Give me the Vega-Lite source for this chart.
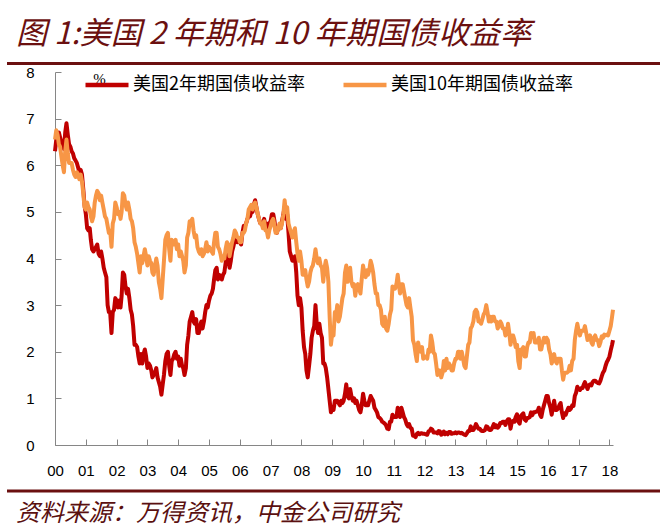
{
  "$schema": "https://vega.github.io/schema/vega-lite/v6.json",
  "background": "white",
  "padding": {"left": 5, "top": 19, "right": 5, "bottom": 6},
  "autosize": {"type": "pad"},
  "spacing": 0,
  "bounds": "full",
  "config": {"view": {"stroke": null}, "font": "Liberation Sans"},
  "vconcat": [
    {
      "width": 558,
      "height": 8.5,
      "title": {"text": "图 1:美国 2 年期和 10 年期国债收益率", "anchor": "start", "frame": "group", "dx": -39, "offset": 4, "fontSize": 31, "font": "Noto Sans CJK SC", "fontStyle": "italic", "fontWeight": "normal", "color": "#6B1010"},
      "data": {"values": [{"k": 0}]},
      "mark": {"type": "rule", "color": "#6B1010", "strokeWidth": 3},
      "encoding": {
        "x": {"datum": 0, "type": "quantitative", "scale": {"domain": [0, 1], "range": [-48, 605]}, "axis": null},
        "x2": {"datum": 1},
        "y": {"field": "k", "type": "quantitative", "scale": {"domain": [0, 1]}, "axis": null}
      }
    },
    {
      "width": 558,
      "height": 373,
      "data": {"values": [
        {"d":"2000-01-01","a":6.30,"b":6.55},{"d":"2000-01-16","a":6.55,"b":6.75},{"d":"2000-02-01","a":6.65,"b":6.65},{"d":"2000-02-16","a":6.70,"b":6.45},{"d":"2000-03-01","a":6.60,"b":6.40},{"d":"2000-03-16","a":6.50,"b":6.20},{"d":"2000-04-01","a":6.45,"b":6.00},{"d":"2000-04-16","a":6.35,"b":5.85},{"d":"2000-05-01","a":6.70,"b":6.30},{"d":"2000-05-16","a":6.90,"b":6.55},{"d":"2000-06-01","a":6.65,"b":6.25},{"d":"2000-06-16","a":6.45,"b":6.05},{"d":"2000-07-01","a":6.40,"b":6.05},{"d":"2000-07-16","a":6.30,"b":6.05},{"d":"2000-08-01","a":6.25,"b":5.90},{"d":"2000-08-16","a":6.15,"b":5.80},{"d":"2000-09-01","a":6.10,"b":5.75},{"d":"2000-09-16","a":6.05,"b":5.85},{"d":"2000-10-01","a":5.95,"b":5.80},{"d":"2000-10-16","a":5.85,"b":5.70},{"d":"2000-11-01","a":5.90,"b":5.80},{"d":"2000-11-16","a":5.80,"b":5.65},{"d":"2000-12-01","a":5.50,"b":5.40},{"d":"2000-12-16","a":5.15,"b":5.10},
        {"d":"2001-01-01","a":4.95,"b":5.05},{"d":"2001-01-16","a":4.65,"b":5.20},{"d":"2001-02-01","a":4.60,"b":5.10},{"d":"2001-02-16","a":4.65,"b":5.05},{"d":"2001-03-01","a":4.40,"b":4.90},{"d":"2001-03-16","a":4.20,"b":4.80},{"d":"2001-04-01","a":4.15,"b":4.90},{"d":"2001-04-16","a":4.20,"b":5.20},{"d":"2001-05-01","a":4.25,"b":5.35},{"d":"2001-05-16","a":4.30,"b":5.45},{"d":"2001-06-01","a":4.10,"b":5.40},{"d":"2001-06-16","a":4.05,"b":5.25},{"d":"2001-07-01","a":4.15,"b":5.35},{"d":"2001-07-16","a":4.00,"b":5.20},{"d":"2001-08-01","a":3.80,"b":5.05},{"d":"2001-08-16","a":3.70,"b":4.90},{"d":"2001-09-01","a":3.60,"b":4.85},{"d":"2001-09-16","a":3.00,"b":4.70},{"d":"2001-10-01","a":2.85,"b":4.55},{"d":"2001-10-16","a":2.85,"b":4.60},{"d":"2001-11-01","a":2.40,"b":4.25},{"d":"2001-11-16","a":2.85,"b":4.75},{"d":"2001-12-01","a":2.90,"b":4.85},{"d":"2001-12-16","a":3.15,"b":5.20},
        {"d":"2002-01-01","a":3.10,"b":5.10},{"d":"2002-01-16","a":2.95,"b":4.95},{"d":"2002-02-01","a":3.10,"b":5.00},{"d":"2002-02-16","a":2.95,"b":4.85},{"d":"2002-03-01","a":3.20,"b":5.00},{"d":"2002-03-16","a":3.70,"b":5.40},{"d":"2002-04-01","a":3.65,"b":5.35},{"d":"2002-04-16","a":3.40,"b":5.15},{"d":"2002-05-01","a":3.25,"b":5.05},{"d":"2002-05-16","a":3.35,"b":5.20},{"d":"2002-06-01","a":3.15,"b":5.05},{"d":"2002-06-16","a":2.90,"b":4.85},{"d":"2002-07-01","a":2.80,"b":4.80},{"d":"2002-07-16","a":2.55,"b":4.65},{"d":"2002-08-01","a":2.15,"b":4.35},{"d":"2002-08-16","a":2.15,"b":4.25},{"d":"2002-09-01","a":2.10,"b":4.10},{"d":"2002-09-16","a":1.90,"b":3.90},{"d":"2002-10-01","a":1.75,"b":3.70},{"d":"2002-10-16","a":1.95,"b":4.05},{"d":"2002-11-01","a":1.75,"b":3.90},{"d":"2002-11-16","a":1.95,"b":4.05},{"d":"2002-12-01","a":2.05,"b":4.20},{"d":"2002-12-16","a":1.90,"b":4.05},
        {"d":"2003-01-01","a":1.65,"b":3.85},{"d":"2003-01-16","a":1.75,"b":4.05},{"d":"2003-02-01","a":1.70,"b":3.95},{"d":"2003-02-16","a":1.60,"b":3.90},{"d":"2003-03-01","a":1.45,"b":3.70},{"d":"2003-03-16","a":1.50,"b":3.65},{"d":"2003-04-01","a":1.55,"b":3.85},{"d":"2003-04-16","a":1.65,"b":4.00},{"d":"2003-05-01","a":1.45,"b":3.85},{"d":"2003-05-16","a":1.35,"b":3.50},{"d":"2003-06-01","a":1.25,"b":3.35},{"d":"2003-06-16","a":1.08,"b":3.15},{"d":"2003-07-01","a":1.30,"b":3.55},{"d":"2003-07-16","a":1.50,"b":3.95},{"d":"2003-08-01","a":1.80,"b":4.40},{"d":"2003-08-16","a":1.95,"b":4.50},{"d":"2003-09-01","a":2.00,"b":4.55},{"d":"2003-09-16","a":1.70,"b":4.20},{"d":"2003-10-01","a":1.50,"b":3.95},{"d":"2003-10-16","a":1.80,"b":4.40},{"d":"2003-11-01","a":1.85,"b":4.30},{"d":"2003-11-16","a":1.95,"b":4.30},{"d":"2003-12-01","a":2.00,"b":4.40},{"d":"2003-12-16","a":1.85,"b":4.20},
        {"d":"2004-01-01","a":1.90,"b":4.30},{"d":"2004-01-16","a":1.70,"b":4.05},{"d":"2004-02-01","a":1.85,"b":4.15},{"d":"2004-02-16","a":1.70,"b":4.05},{"d":"2004-03-01","a":1.65,"b":3.95},{"d":"2004-03-16","a":1.50,"b":3.70},{"d":"2004-04-01","a":1.65,"b":3.85},{"d":"2004-04-16","a":2.15,"b":4.45},{"d":"2004-05-01","a":2.35,"b":4.55},{"d":"2004-05-16","a":2.65,"b":4.80},{"d":"2004-06-01","a":2.75,"b":4.80},{"d":"2004-06-16","a":2.85,"b":4.85},{"d":"2004-07-01","a":2.65,"b":4.60},{"d":"2004-07-16","a":2.60,"b":4.45},{"d":"2004-08-01","a":2.70,"b":4.50},{"d":"2004-08-16","a":2.40,"b":4.25},{"d":"2004-09-01","a":2.40,"b":4.15},{"d":"2004-09-16","a":2.55,"b":4.10},{"d":"2004-10-01","a":2.65,"b":4.20},{"d":"2004-10-16","a":2.50,"b":4.05},{"d":"2004-11-01","a":2.65,"b":4.10},{"d":"2004-11-16","a":2.85,"b":4.20},{"d":"2004-12-01","a":3.00,"b":4.35},{"d":"2004-12-16","a":2.95,"b":4.15},
        {"d":"2005-01-01","a":3.10,"b":4.25},{"d":"2005-01-16","a":3.20,"b":4.20},{"d":"2005-02-01","a":3.25,"b":4.15},{"d":"2005-02-16","a":3.35,"b":4.10},{"d":"2005-03-01","a":3.55,"b":4.35},{"d":"2005-03-16","a":3.75,"b":4.55},{"d":"2005-04-01","a":3.80,"b":4.55},{"d":"2005-04-16","a":3.55,"b":4.25},{"d":"2005-05-01","a":3.65,"b":4.20},{"d":"2005-05-16","a":3.60,"b":4.10},{"d":"2005-06-01","a":3.55,"b":3.95},{"d":"2005-06-16","a":3.65,"b":4.05},{"d":"2005-07-01","a":3.70,"b":4.00},{"d":"2005-07-16","a":3.90,"b":4.20},{"d":"2005-08-01","a":4.05,"b":4.35},{"d":"2005-08-16","a":4.10,"b":4.30},{"d":"2005-09-01","a":3.80,"b":4.05},{"d":"2005-09-16","a":3.95,"b":4.20},{"d":"2005-10-01","a":4.15,"b":4.35},{"d":"2005-10-16","a":4.25,"b":4.45},{"d":"2005-11-01","a":4.40,"b":4.60},{"d":"2005-11-16","a":4.40,"b":4.55},{"d":"2005-12-01","a":4.35,"b":4.45},{"d":"2005-12-16","a":4.40,"b":4.45},
        {"d":"2006-01-01","a":4.35,"b":4.35},{"d":"2006-01-16","a":4.30,"b":4.35},{"d":"2006-02-01","a":4.55,"b":4.55},{"d":"2006-02-16","a":4.70,"b":4.55},{"d":"2006-03-01","a":4.70,"b":4.60},{"d":"2006-03-16","a":4.75,"b":4.75},{"d":"2006-04-01","a":4.85,"b":4.85},{"d":"2006-04-16","a":4.90,"b":5.05},{"d":"2006-05-01","a":4.90,"b":5.10},{"d":"2006-05-16","a":5.00,"b":5.15},{"d":"2006-06-01","a":5.00,"b":5.05},{"d":"2006-06-16","a":5.15,"b":5.15},{"d":"2006-07-01","a":5.25,"b":5.20},{"d":"2006-07-16","a":5.10,"b":5.10},{"d":"2006-08-01","a":4.95,"b":4.95},{"d":"2006-08-16","a":4.85,"b":4.85},{"d":"2006-09-01","a":4.75,"b":4.75},{"d":"2006-09-16","a":4.75,"b":4.75},{"d":"2006-10-01","a":4.70,"b":4.65},{"d":"2006-10-16","a":4.85,"b":4.80},{"d":"2006-11-01","a":4.70,"b":4.60},{"d":"2006-11-16","a":4.75,"b":4.60},{"d":"2006-12-01","a":4.55,"b":4.45},{"d":"2006-12-16","a":4.75,"b":4.60},
        {"d":"2007-01-01","a":4.80,"b":4.70},{"d":"2007-01-16","a":4.95,"b":4.80},{"d":"2007-02-01","a":4.95,"b":4.85},{"d":"2007-02-16","a":4.80,"b":4.70},{"d":"2007-03-01","a":4.60,"b":4.55},{"d":"2007-03-16","a":4.55,"b":4.55},{"d":"2007-04-01","a":4.65,"b":4.65},{"d":"2007-04-16","a":4.70,"b":4.75},{"d":"2007-05-01","a":4.65,"b":4.65},{"d":"2007-05-16","a":4.80,"b":4.75},{"d":"2007-06-01","a":4.95,"b":4.95},{"d":"2007-06-16","a":5.10,"b":5.25},{"d":"2007-07-01","a":4.85,"b":5.00},{"d":"2007-07-16","a":4.95,"b":5.10},{"d":"2007-08-01","a":4.55,"b":4.75},{"d":"2007-08-16","a":4.15,"b":4.65},{"d":"2007-09-01","a":4.05,"b":4.55},{"d":"2007-09-16","a":3.95,"b":4.45},{"d":"2007-10-01","a":3.95,"b":4.55},{"d":"2007-10-16","a":4.05,"b":4.65},{"d":"2007-11-01","a":3.70,"b":4.35},{"d":"2007-11-16","a":3.20,"b":4.10},{"d":"2007-12-01","a":3.00,"b":3.95},{"d":"2007-12-16","a":3.15,"b":4.15},
        {"d":"2008-01-01","a":2.95,"b":3.95},{"d":"2008-01-16","a":2.45,"b":3.65},{"d":"2008-02-01","a":2.10,"b":3.65},{"d":"2008-02-16","a":1.95,"b":3.75},{"d":"2008-03-01","a":1.60,"b":3.55},{"d":"2008-03-16","a":1.45,"b":3.40},{"d":"2008-04-01","a":1.70,"b":3.50},{"d":"2008-04-16","a":1.95,"b":3.70},{"d":"2008-05-01","a":2.30,"b":3.80},{"d":"2008-05-16","a":2.45,"b":3.85},{"d":"2008-06-01","a":2.55,"b":4.00},{"d":"2008-06-16","a":3.00,"b":4.20},{"d":"2008-07-01","a":2.60,"b":4.00},{"d":"2008-07-16","a":2.40,"b":3.90},{"d":"2008-08-01","a":2.60,"b":4.00},{"d":"2008-08-16","a":2.40,"b":3.85},{"d":"2008-09-01","a":2.30,"b":3.80},{"d":"2008-09-16","a":1.75,"b":3.50},{"d":"2008-10-01","a":1.75,"b":3.80},{"d":"2008-10-16","a":1.65,"b":3.95},{"d":"2008-11-01","a":1.45,"b":3.80},{"d":"2008-11-16","a":1.20,"b":3.50},{"d":"2008-12-01","a":0.95,"b":2.75},{"d":"2008-12-16","a":0.70,"b":2.15},
        {"d":"2009-01-01","a":0.80,"b":2.40},{"d":"2009-01-16","a":0.75,"b":2.35},{"d":"2009-02-01","a":0.95,"b":2.85},{"d":"2009-02-16","a":0.95,"b":2.80},{"d":"2009-03-01","a":0.95,"b":3.00},{"d":"2009-03-16","a":0.90,"b":2.65},{"d":"2009-04-01","a":0.85,"b":2.75},{"d":"2009-04-16","a":0.95,"b":2.95},{"d":"2009-05-01","a":0.90,"b":3.15},{"d":"2009-05-16","a":0.95,"b":3.25},{"d":"2009-06-01","a":1.10,"b":3.70},{"d":"2009-06-16","a":1.30,"b":3.85},{"d":"2009-07-01","a":1.05,"b":3.50},{"d":"2009-07-16","a":1.00,"b":3.65},{"d":"2009-08-01","a":1.20,"b":3.80},{"d":"2009-08-16","a":1.05,"b":3.50},{"d":"2009-09-01","a":0.95,"b":3.40},{"d":"2009-09-16","a":1.00,"b":3.45},{"d":"2009-10-01","a":0.90,"b":3.20},{"d":"2009-10-16","a":0.95,"b":3.40},{"d":"2009-11-01","a":0.85,"b":3.45},{"d":"2009-11-16","a":0.75,"b":3.35},{"d":"2009-12-01","a":0.70,"b":3.25},{"d":"2009-12-16","a":0.85,"b":3.55},
        {"d":"2010-01-01","a":1.10,"b":3.85},{"d":"2010-01-16","a":0.95,"b":3.70},{"d":"2010-02-01","a":0.85,"b":3.60},{"d":"2010-02-16","a":0.85,"b":3.75},{"d":"2010-03-01","a":0.85,"b":3.65},{"d":"2010-03-16","a":0.95,"b":3.75},{"d":"2010-04-01","a":1.05,"b":3.95},{"d":"2010-04-16","a":1.00,"b":3.85},{"d":"2010-05-01","a":0.95,"b":3.70},{"d":"2010-05-16","a":0.80,"b":3.45},{"d":"2010-06-01","a":0.75,"b":3.25},{"d":"2010-06-16","a":0.70,"b":3.25},{"d":"2010-07-01","a":0.60,"b":3.00},{"d":"2010-07-16","a":0.58,"b":3.00},{"d":"2010-08-01","a":0.55,"b":2.90},{"d":"2010-08-16","a":0.50,"b":2.60},{"d":"2010-09-01","a":0.48,"b":2.55},{"d":"2010-09-16","a":0.46,"b":2.75},{"d":"2010-10-01","a":0.42,"b":2.50},{"d":"2010-10-16","a":0.35,"b":2.45},{"d":"2010-11-01","a":0.34,"b":2.60},{"d":"2010-11-16","a":0.50,"b":2.80},{"d":"2010-12-01","a":0.50,"b":2.90},{"d":"2010-12-16","a":0.65,"b":3.40},
        {"d":"2011-01-01","a":0.60,"b":3.35},{"d":"2011-01-16","a":0.60,"b":3.35},{"d":"2011-02-01","a":0.60,"b":3.45},{"d":"2011-02-16","a":0.80,"b":3.65},{"d":"2011-03-01","a":0.70,"b":3.45},{"d":"2011-03-16","a":0.60,"b":3.25},{"d":"2011-04-01","a":0.80,"b":3.45},{"d":"2011-04-16","a":0.70,"b":3.45},{"d":"2011-05-01","a":0.60,"b":3.30},{"d":"2011-05-16","a":0.55,"b":3.15},{"d":"2011-06-01","a":0.45,"b":3.00},{"d":"2011-06-16","a":0.40,"b":2.95},{"d":"2011-07-01","a":0.45,"b":3.15},{"d":"2011-07-16","a":0.37,"b":2.95},{"d":"2011-08-01","a":0.35,"b":2.75},{"d":"2011-08-16","a":0.20,"b":2.25},{"d":"2011-09-01","a":0.20,"b":2.15},{"d":"2011-09-16","a":0.17,"b":1.95},{"d":"2011-10-01","a":0.24,"b":1.80},{"d":"2011-10-16","a":0.26,"b":2.20},{"d":"2011-11-01","a":0.23,"b":2.05},{"d":"2011-11-16","a":0.25,"b":2.00},{"d":"2011-12-01","a":0.25,"b":2.10},{"d":"2011-12-16","a":0.24,"b":1.85},
        {"d":"2012-01-01","a":0.24,"b":1.90},{"d":"2012-01-16","a":0.23,"b":1.90},{"d":"2012-02-01","a":0.22,"b":1.85},{"d":"2012-02-16","a":0.29,"b":2.05},{"d":"2012-03-01","a":0.30,"b":2.00},{"d":"2012-03-16","a":0.35,"b":2.35},{"d":"2012-04-01","a":0.33,"b":2.20},{"d":"2012-04-16","a":0.27,"b":1.98},{"d":"2012-05-01","a":0.27,"b":1.95},{"d":"2012-05-16","a":0.27,"b":1.75},{"d":"2012-06-01","a":0.25,"b":1.50},{"d":"2012-06-16","a":0.30,"b":1.60},{"d":"2012-07-01","a":0.29,"b":1.60},{"d":"2012-07-16","a":0.22,"b":1.45},{"d":"2012-08-01","a":0.24,"b":1.55},{"d":"2012-08-16","a":0.29,"b":1.80},{"d":"2012-09-01","a":0.23,"b":1.60},{"d":"2012-09-16","a":0.26,"b":1.85},{"d":"2012-10-01","a":0.23,"b":1.65},{"d":"2012-10-16","a":0.28,"b":1.75},{"d":"2012-11-01","a":0.28,"b":1.70},{"d":"2012-11-16","a":0.24,"b":1.60},{"d":"2012-12-01","a":0.25,"b":1.60},{"d":"2012-12-16","a":0.25,"b":1.75},
        {"d":"2013-01-01","a":0.27,"b":1.85},{"d":"2013-01-16","a":0.25,"b":1.85},{"d":"2013-02-01","a":0.27,"b":2.00},{"d":"2013-02-16","a":0.27,"b":2.00},{"d":"2013-03-01","a":0.25,"b":1.85},{"d":"2013-03-16","a":0.26,"b":2.00},{"d":"2013-04-01","a":0.24,"b":1.85},{"d":"2013-04-16","a":0.22,"b":1.70},{"d":"2013-05-01","a":0.21,"b":1.65},{"d":"2013-05-16","a":0.25,"b":1.90},{"d":"2013-06-01","a":0.30,"b":2.15},{"d":"2013-06-16","a":0.30,"b":2.20},{"d":"2013-07-01","a":0.40,"b":2.50},{"d":"2013-07-16","a":0.32,"b":2.55},{"d":"2013-08-01","a":0.32,"b":2.65},{"d":"2013-08-16","a":0.37,"b":2.85},{"d":"2013-09-01","a":0.45,"b":2.90},{"d":"2013-09-16","a":0.40,"b":2.85},{"d":"2013-10-01","a":0.35,"b":2.65},{"d":"2013-10-16","a":0.35,"b":2.65},{"d":"2013-11-01","a":0.31,"b":2.60},{"d":"2013-11-16","a":0.30,"b":2.70},{"d":"2013-12-01","a":0.30,"b":2.80},{"d":"2013-12-16","a":0.32,"b":2.85},
        {"d":"2014-01-01","a":0.40,"b":3.00},{"d":"2014-01-16","a":0.39,"b":2.85},{"d":"2014-02-01","a":0.33,"b":2.65},{"d":"2014-02-16","a":0.32,"b":2.75},{"d":"2014-03-01","a":0.33,"b":2.65},{"d":"2014-03-16","a":0.38,"b":2.75},{"d":"2014-04-01","a":0.45,"b":2.75},{"d":"2014-04-16","a":0.38,"b":2.65},{"d":"2014-05-01","a":0.42,"b":2.65},{"d":"2014-05-16","a":0.37,"b":2.50},{"d":"2014-06-01","a":0.40,"b":2.55},{"d":"2014-06-16","a":0.47,"b":2.65},{"d":"2014-07-01","a":0.47,"b":2.60},{"d":"2014-07-16","a":0.50,"b":2.50},{"d":"2014-08-01","a":0.50,"b":2.50},{"d":"2014-08-16","a":0.43,"b":2.35},{"d":"2014-09-01","a":0.51,"b":2.40},{"d":"2014-09-16","a":0.55,"b":2.60},{"d":"2014-10-01","a":0.55,"b":2.40},{"d":"2014-10-16","a":0.35,"b":2.15},{"d":"2014-11-01","a":0.50,"b":2.35},{"d":"2014-11-16","a":0.52,"b":2.35},{"d":"2014-12-01","a":0.50,"b":2.25},{"d":"2014-12-16","a":0.60,"b":2.10},
        {"d":"2015-01-01","a":0.66,"b":2.15},{"d":"2015-01-16","a":0.50,"b":1.80},{"d":"2015-02-01","a":0.46,"b":1.65},{"d":"2015-02-16","a":0.62,"b":2.05},{"d":"2015-03-01","a":0.65,"b":2.00},{"d":"2015-03-16","a":0.68,"b":2.10},{"d":"2015-04-01","a":0.55,"b":1.90},{"d":"2015-04-16","a":0.52,"b":1.90},{"d":"2015-05-01","a":0.58,"b":2.10},{"d":"2015-05-16","a":0.58,"b":2.20},{"d":"2015-06-01","a":0.60,"b":2.20},{"d":"2015-06-16","a":0.70,"b":2.40},{"d":"2015-07-01","a":0.64,"b":2.35},{"d":"2015-07-16","a":0.70,"b":2.40},{"d":"2015-08-01","a":0.70,"b":2.20},{"d":"2015-08-16","a":0.72,"b":2.20},{"d":"2015-09-01","a":0.72,"b":2.20},{"d":"2015-09-16","a":0.80,"b":2.30},{"d":"2015-10-01","a":0.65,"b":2.05},{"d":"2015-10-16","a":0.60,"b":2.05},{"d":"2015-11-01","a":0.75,"b":2.20},{"d":"2015-11-16","a":0.85,"b":2.30},{"d":"2015-12-01","a":0.95,"b":2.20},{"d":"2015-12-16","a":1.05,"b":2.30},
        {"d":"2016-01-01","a":1.05,"b":2.25},{"d":"2016-01-16","a":0.90,"b":2.05},{"d":"2016-02-01","a":0.80,"b":1.95},{"d":"2016-02-16","a":0.65,"b":1.75},{"d":"2016-03-01","a":0.80,"b":1.85},{"d":"2016-03-16","a":0.95,"b":1.95},{"d":"2016-04-01","a":0.75,"b":1.80},{"d":"2016-04-16","a":0.75,"b":1.75},{"d":"2016-05-01","a":0.78,"b":1.85},{"d":"2016-05-16","a":0.85,"b":1.85},{"d":"2016-06-01","a":0.90,"b":1.85},{"d":"2016-06-16","a":0.70,"b":1.60},{"d":"2016-07-01","a":0.58,"b":1.40},{"d":"2016-07-16","a":0.68,"b":1.55},{"d":"2016-08-01","a":0.65,"b":1.55},{"d":"2016-08-16","a":0.73,"b":1.55},{"d":"2016-09-01","a":0.80,"b":1.58},{"d":"2016-09-16","a":0.75,"b":1.70},{"d":"2016-10-01","a":0.78,"b":1.60},{"d":"2016-10-16","a":0.85,"b":1.80},{"d":"2016-11-01","a":0.84,"b":1.85},{"d":"2016-11-16","a":1.05,"b":2.25},{"d":"2016-12-01","a":1.12,"b":2.45},{"d":"2016-12-16","a":1.25,"b":2.60},
        {"d":"2017-01-01","a":1.20,"b":2.45},{"d":"2017-01-16","a":1.18,"b":2.35},{"d":"2017-02-01","a":1.22,"b":2.45},{"d":"2017-02-16","a":1.22,"b":2.45},{"d":"2017-03-01","a":1.29,"b":2.45},{"d":"2017-03-16","a":1.35,"b":2.55},{"d":"2017-04-01","a":1.27,"b":2.40},{"d":"2017-04-16","a":1.20,"b":2.25},{"d":"2017-05-01","a":1.28,"b":2.30},{"d":"2017-05-16","a":1.30,"b":2.35},{"d":"2017-06-01","a":1.28,"b":2.20},{"d":"2017-06-16","a":1.35,"b":2.15},{"d":"2017-07-01","a":1.38,"b":2.30},{"d":"2017-07-16","a":1.38,"b":2.35},{"d":"2017-08-01","a":1.35,"b":2.25},{"d":"2017-08-16","a":1.33,"b":2.25},{"d":"2017-09-01","a":1.32,"b":2.12},{"d":"2017-09-16","a":1.38,"b":2.20},{"d":"2017-10-01","a":1.47,"b":2.33},{"d":"2017-10-16","a":1.55,"b":2.30},{"d":"2017-11-01","a":1.60,"b":2.37},{"d":"2017-11-16","a":1.70,"b":2.35},{"d":"2017-12-01","a":1.78,"b":2.37},{"d":"2017-12-16","a":1.83,"b":2.35},
        {"d":"2018-01-01","a":1.90,"b":2.45},{"d":"2018-01-16","a":2.03,"b":2.55},{"d":"2018-02-01","a":2.15,"b":2.75},{"d":"2018-02-12","a":2.25,"b":2.90}
      ]},
      "encoding": {
        "x": {
          "field": "d", "type": "temporal",
          "scale": {"type": "utc", "domain": ["2000-01-01", "2018-02-12"]},
          "axis": {"title": null, "labelExpr": "utcFormat(datum.value, '%y')", "tickCount": {"interval": "year", "step": 1}, "grid": false, "domainColor": "#868686", "tickColor": "#868686", "tickSize": -6, "labelPadding": 24, "labelFontSize": 15, "labelColor": "#000000", "labelFont": "Liberation Sans", "labelFlush": false, "labelOverlap": false, "minExtent": 44, "maxExtent": 44}
        }
      },
      "layer": [
        {
          "mark": {"type": "line", "strokeWidth": 4, "strokeJoin": "round"},
          "encoding": {
            "y": {"field": "a", "type": "quantitative", "scale": {"domain": [0, 8]}, "axis": {"title": "%", "titleAngle": 0, "titleX": 44, "titleY": 11, "titleAlign": "center", "titleBaseline": "alphabetic", "titleFont": "Liberation Serif", "titleFontSize": 15, "titleFontWeight": "normal", "titleColor": "#000000", "values": [0, 1, 2, 3, 4, 5, 6, 7, 8], "grid": false, "domainColor": "#868686", "tickColor": "#868686", "tickSize": -6, "labelPadding": 27, "labelFontSize": 15, "labelColor": "#000000", "labelFont": "Liberation Sans", "minExtent": 49, "maxExtent": 49}},
            "color": {
              "datum": "美国2年期国债收益率",
              "scale": {"domain": ["美国2年期国债收益率", "美国10年期国债收益率"], "range": ["#C00000", "#F79646"]},
              "legend": {"title": null, "orient": "none", "legendX": 28, "legendY": 6, "direction": "horizontal", "symbolType": "stroke", "symbolSize": 1849, "symbolStrokeWidth": 4.5, "labelFont": "Noto Sans CJK SC", "labelFontSize": 18, "labelColor": "#000000", "labelOffset": 2, "labelLimit": 0, "columnPadding": 29, "padding": 0}
            }
          }
        },
        {
          "mark": {"type": "line", "strokeWidth": 4, "strokeJoin": "round"},
          "encoding": {
            "y": {"field": "b", "type": "quantitative"},
            "color": {"datum": "美国10年期国债收益率"}
          }
        }
      ]
    },
    {
      "width": 558,
      "height": 6,
      "title": {"text": "资料来源：万得资讯，中金公司研究", "orient": "bottom", "anchor": "start", "frame": "group", "dx": -39, "offset": 5, "fontSize": 24, "font": "Noto Sans CJK SC", "fontStyle": "italic", "fontWeight": "normal", "color": "#5A1010"},
      "data": {"values": [{"k": 1}]},
      "mark": {"type": "rule", "color": "#6B1010", "strokeWidth": 3},
      "encoding": {
        "x": {"datum": 0, "type": "quantitative", "scale": {"domain": [0, 1], "range": [-48, 605]}, "axis": null},
        "x2": {"datum": 1},
        "y": {"field": "k", "type": "quantitative", "scale": {"domain": [0, 1]}, "axis": null}
      }
    }
  ]
}
